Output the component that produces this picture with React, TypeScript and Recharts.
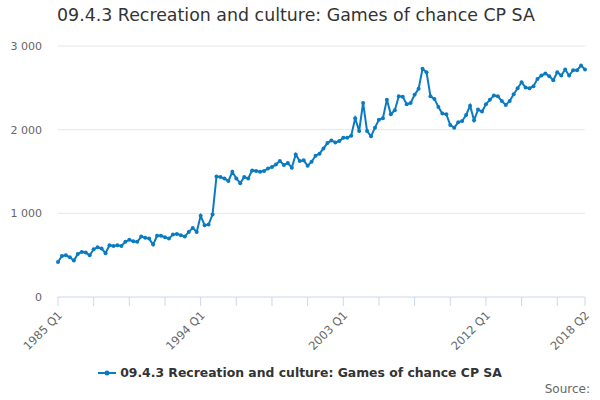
import { LineChart, Line, XAxis, YAxis, CartesianGrid } from 'recharts';

const firstYear = 1985;
const quarters = ['Q1', 'Q2', 'Q3', 'Q4'];

// quarterly values, 1985 Q1 .. 2018 Q2
const values1985to1994 = [
  419, 491, 499, 475, 435, 515, 539, 531, 499, 571, 595, 579, 523, 619, 611, 619, 611, 659, 683, 667,
  659, 722, 707, 698, 626, 731, 731, 715, 698, 746, 754, 739, 722, 778, 826, 778, 970, 859, 866, 986,
];
const values1995to2003 = [
  1441, 1433, 1417, 1385, 1497, 1417, 1361, 1433, 1417, 1513, 1505, 1497, 1505, 1537, 1553, 1585, 1625, 1577,
  1601, 1545, 1704, 1625, 1633, 1569, 1617, 1689, 1713, 1776, 1840, 1872, 1848, 1864, 1904, 1904, 1928,
];
const values2003to2011 = [
  2136, 1984, 2320, 1984, 1920, 2024, 2120, 2136, 2359, 2184, 2232, 2399, 2392, 2303, 2320, 2416, 2488, 2727,
  2687, 2399, 2368, 2272, 2192, 2184, 2056, 2024, 2088, 2104, 2176, 2287, 2112,
];
const values2011to2018 = [
  2240, 2216, 2303, 2359, 2407, 2399, 2343, 2296, 2343, 2423, 2495, 2567, 2503, 2495, 2519, 2607, 2647, 2671,
  2639, 2591, 2687, 2647, 2719, 2647, 2711, 2711, 2767, 2719,
];

const values = [...values1985to1994, ...values1995to2003, ...values2003to2011, ...values2011to2018];
const labels = values.map((_, i) => `${firstYear + Math.floor(i / 4)} ${quarters[i % 4]}`);
const shownLabels = ['1985 Q1', '1994 Q1', '2003 Q1', '2012 Q1', '2018 Q2'];
const yTicks = [0, 1000, 2000, 3000];

const seriesName = '09.4.3 Recreation and culture: Games of chance CP SA';
const lineColor = '#0b7bc1';
const font = '"DejaVu Sans", sans-serif';

const data = values.map((v, i) => ({ name: labels[i], value: v }));
const tickLabels = labels.filter((_, i) => i % 9 === 0 || i === labels.length - 1);

const fmt = (v: number) => String(v).replace(/\B(?=(\d{3})+(?!\d))/g, ' ');

function XTick(props: any) {
  const { x, y, payload } = props;
  if (!shownLabels.includes(payload.value)) return null;
  const tx = x + 5;
  const ty = y + 8;
  return (
    <text x={tx} y={ty} transform={`rotate(-45 ${tx} ${ty})`} textAnchor="end" fill="#666" fontSize={11.5} fontFamily={font}>
      {payload.value}
    </text>
  );
}

export default function App() {
  return (
    <div style={{ position: 'absolute', left: 0, top: 0, width: 600, height: 400, fontFamily: font, background: '#fff' }}>
      <div style={{ position: 'absolute', left: 57, top: 5, fontSize: 17.4, color: '#333' }}>{seriesName}</div>
      <LineChart width={600} height={400} data={data} margin={{ top: 46, right: 15, left: 0, bottom: 43 }}>
        <CartesianGrid vertical={false} stroke="#e6e6e6" horizontalValues={[1000, 2000, 3000]} />
        <XAxis
          dataKey="name"
          ticks={tickLabels}
          interval={0}
          tick={<XTick />}
          tickSize={9}
          stroke="#ccd6eb"
          tickLine={{ stroke: '#ccd6eb' }}
          height={60}
        />
        <YAxis
          domain={[0, 3000]}
          ticks={yTicks}
          tickFormatter={fmt}
          axisLine={false}
          tickLine={false}
          tickMargin={10}
          width={58}
          tick={{ fill: '#666', fontSize: 11, fontFamily: font }}
        />
        <Line
          type="linear"
          dataKey="value"
          name={seriesName}
          stroke={lineColor}
          strokeWidth={2}
          dot={{ r: 2, fill: lineColor, stroke: lineColor, strokeWidth: 0 }}
          isAnimationActive={false}
        />
      </LineChart>
      <div style={{ position: 'absolute', left: 0, width: 600, top: 365, display: 'flex', justifyContent: 'center', alignItems: 'center' }}>
        <svg width={18} height={10} style={{ marginRight: 4 }}>
          <line x1={0} y1={5} x2={18} y2={5} stroke={lineColor} strokeWidth={2} />
          <circle cx={9} cy={5} r={2.5} fill={lineColor} />
        </svg>
        <span style={{ fontSize: 12.4, fontWeight: 'bold', color: '#333' }}>{seriesName}</span>
      </div>
      <div style={{ position: 'absolute', right: 10, top: 382, fontSize: 12, color: '#666' }}>Source:</div>
    </div>
  );
}
